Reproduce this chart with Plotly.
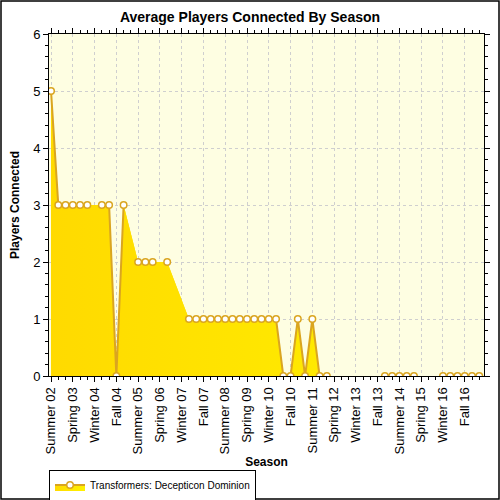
import plotly.graph_objects as go

seasons = [
    "Summer 02", "Fall 02", "Winter 03", "Spring 03", "Summer 03", "Fall 03",
    "Winter 04", "Spring 04", "Summer 04", "Fall 04", "Winter 05", "Spring 05",
    "Summer 05", "Fall 05", "Winter 06", "Spring 06", "Summer 06", "Fall 06",
    "Winter 07", "Spring 07", "Summer 07", "Fall 07", "Winter 08", "Spring 08",
    "Summer 08", "Fall 08", "Winter 09", "Spring 09", "Summer 09", "Fall 09",
    "Winter 10", "Spring 10", "Summer 10", "Fall 10", "Winter 11", "Spring 11",
    "Summer 11", "Fall 11", "Winter 12", "Spring 12", "Summer 12", "Fall 12",
    "Winter 13", "Spring 13", "Summer 13", "Fall 13", "Winter 14", "Spring 14",
    "Summer 14", "Fall 14", "Winter 15", "Spring 15", "Summer 15", "Fall 15",
    "Winter 16", "Spring 16", "Summer 16", "Fall 16", "Winter 17", "Spring 17",
]

players = [
    5, 3, 3, 3, 3, 3,
    None, 3, 3, 0, 3, None,
    2, 2, 2, None, 2, None,
    None, 1, 1, 1, 1, 1,
    1, 1, 1, 1, 1, 1,
    1, 1, 0, 0, 1, 0,
    1, 0, 0, None, None, None,
    None, None, None, None, 0, 0,
    0, 0, 0, None, None, None,
    0, 0, 0, 0, 0, 0,
]

series_name = "Transformers: Decepticon Dominion"
tick_step = 3

x_idx = list(range(len(seasons)))
tick_vals = x_idx[::tick_step]
tick_text = seasons[::tick_step]

gold = "#DAA520"
grad = dict(type="horizontal", colorscale=[[0, "#FFDA00"], [1, "#FFF200"]])
font = "Liberation Sans, Arial, sans-serif"

fig = go.Figure()
fig.add_trace(go.Scatter(
    x=x_idx, y=players, mode="none", fill="tozeroy", connectgaps=True,
    fillgradient=grad, showlegend=False, hoverinfo="skip",
))
fig.add_trace(go.Scatter(
    x=x_idx, y=players, name=series_name, mode="lines+markers",
    fill="tozeroy", fillgradient=grad, connectgaps=False,
    line=dict(color=gold, width=2),
    marker=dict(symbol="circle", size=6.5, color="white",
                line=dict(color=gold, width=1.5)),
))

L, R, T, B = 49, 16, 34, 124
pw, ph = 500 - L - R, 500 - T - B

fig.update_layout(
    width=500, height=500,
    margin=dict(l=L, r=R, t=T, b=B, autoexpand=False),
    paper_bgcolor="white",
    plot_bgcolor="#FEFEE2",
    font=dict(family=font, size=12, color="black"),
    title=dict(text="<b>Average Players Connected By Season</b>",
               x=0.5, xref="container", xanchor="center",
               y=1 - 17 / 500, yref="container", yanchor="middle",
               font=dict(size=14, family=font, color="black")),
    showlegend=True,
    legend=dict(orientation="h", xref="container", x=49 / 500, xanchor="left",
                yref="container", y=1 - 485 / 500, yanchor="middle",
                bgcolor="white", bordercolor="black", borderwidth=1,
                font=dict(size=10, family=font),
                itemwidth=30, tracegroupgap=0),
    shapes=[dict(type="rect", xref="paper", yref="paper",
                 x0=-(L - 1) / pw, x1=1 + (R - 1) / pw,
                 y0=-(B - 1) / ph, y1=1 + (T - 1) / ph,
                 line=dict(color="black", width=1.5), layer="below")],
)

fig.update_xaxes(
    automargin=True,
    range=[-0.28, 59.65],
    tickmode="array", tickvals=tick_vals, ticktext=tick_text,
    tickangle=-90, tickfont=dict(size=13),
    ticks="outside", ticklen=5, tickcolor="black",
    minor=dict(dtick=1, tick0=0, ticks="outside", ticklen=3, tickcolor="black",
               showgrid=False),
    showline=True, linecolor="black", linewidth=1, mirror="ticks",
    showgrid=True, gridcolor="#CFCFCF", griddash="dot", gridwidth=1,
    zeroline=False,
    title=dict(text="<b>Season</b>", font=dict(size=12), standoff=18),
)
fig.update_yaxes(
    automargin=True,
    range=[0, 6], dtick=1, tick0=0,
    tickfont=dict(size=13),
    ticks="outside", ticklen=5, tickcolor="black",
    minor=dict(dtick=0.2, ticks="outside", ticklen=3, tickcolor="black",
               showgrid=False),
    showline=True, linecolor="black", linewidth=1, mirror="ticks",
    showgrid=True, gridcolor="#CFCFCF", griddash="dot", gridwidth=1,
    zeroline=False,
    title=dict(text="<b>Players Connected</b>", font=dict(size=12), standoff=10),
)

fig.write_html("out.html",
               config={"displayModeBar": False},
               post_script="document.body.style.margin='0';"
                           "document.body.style.overflow='hidden';")
